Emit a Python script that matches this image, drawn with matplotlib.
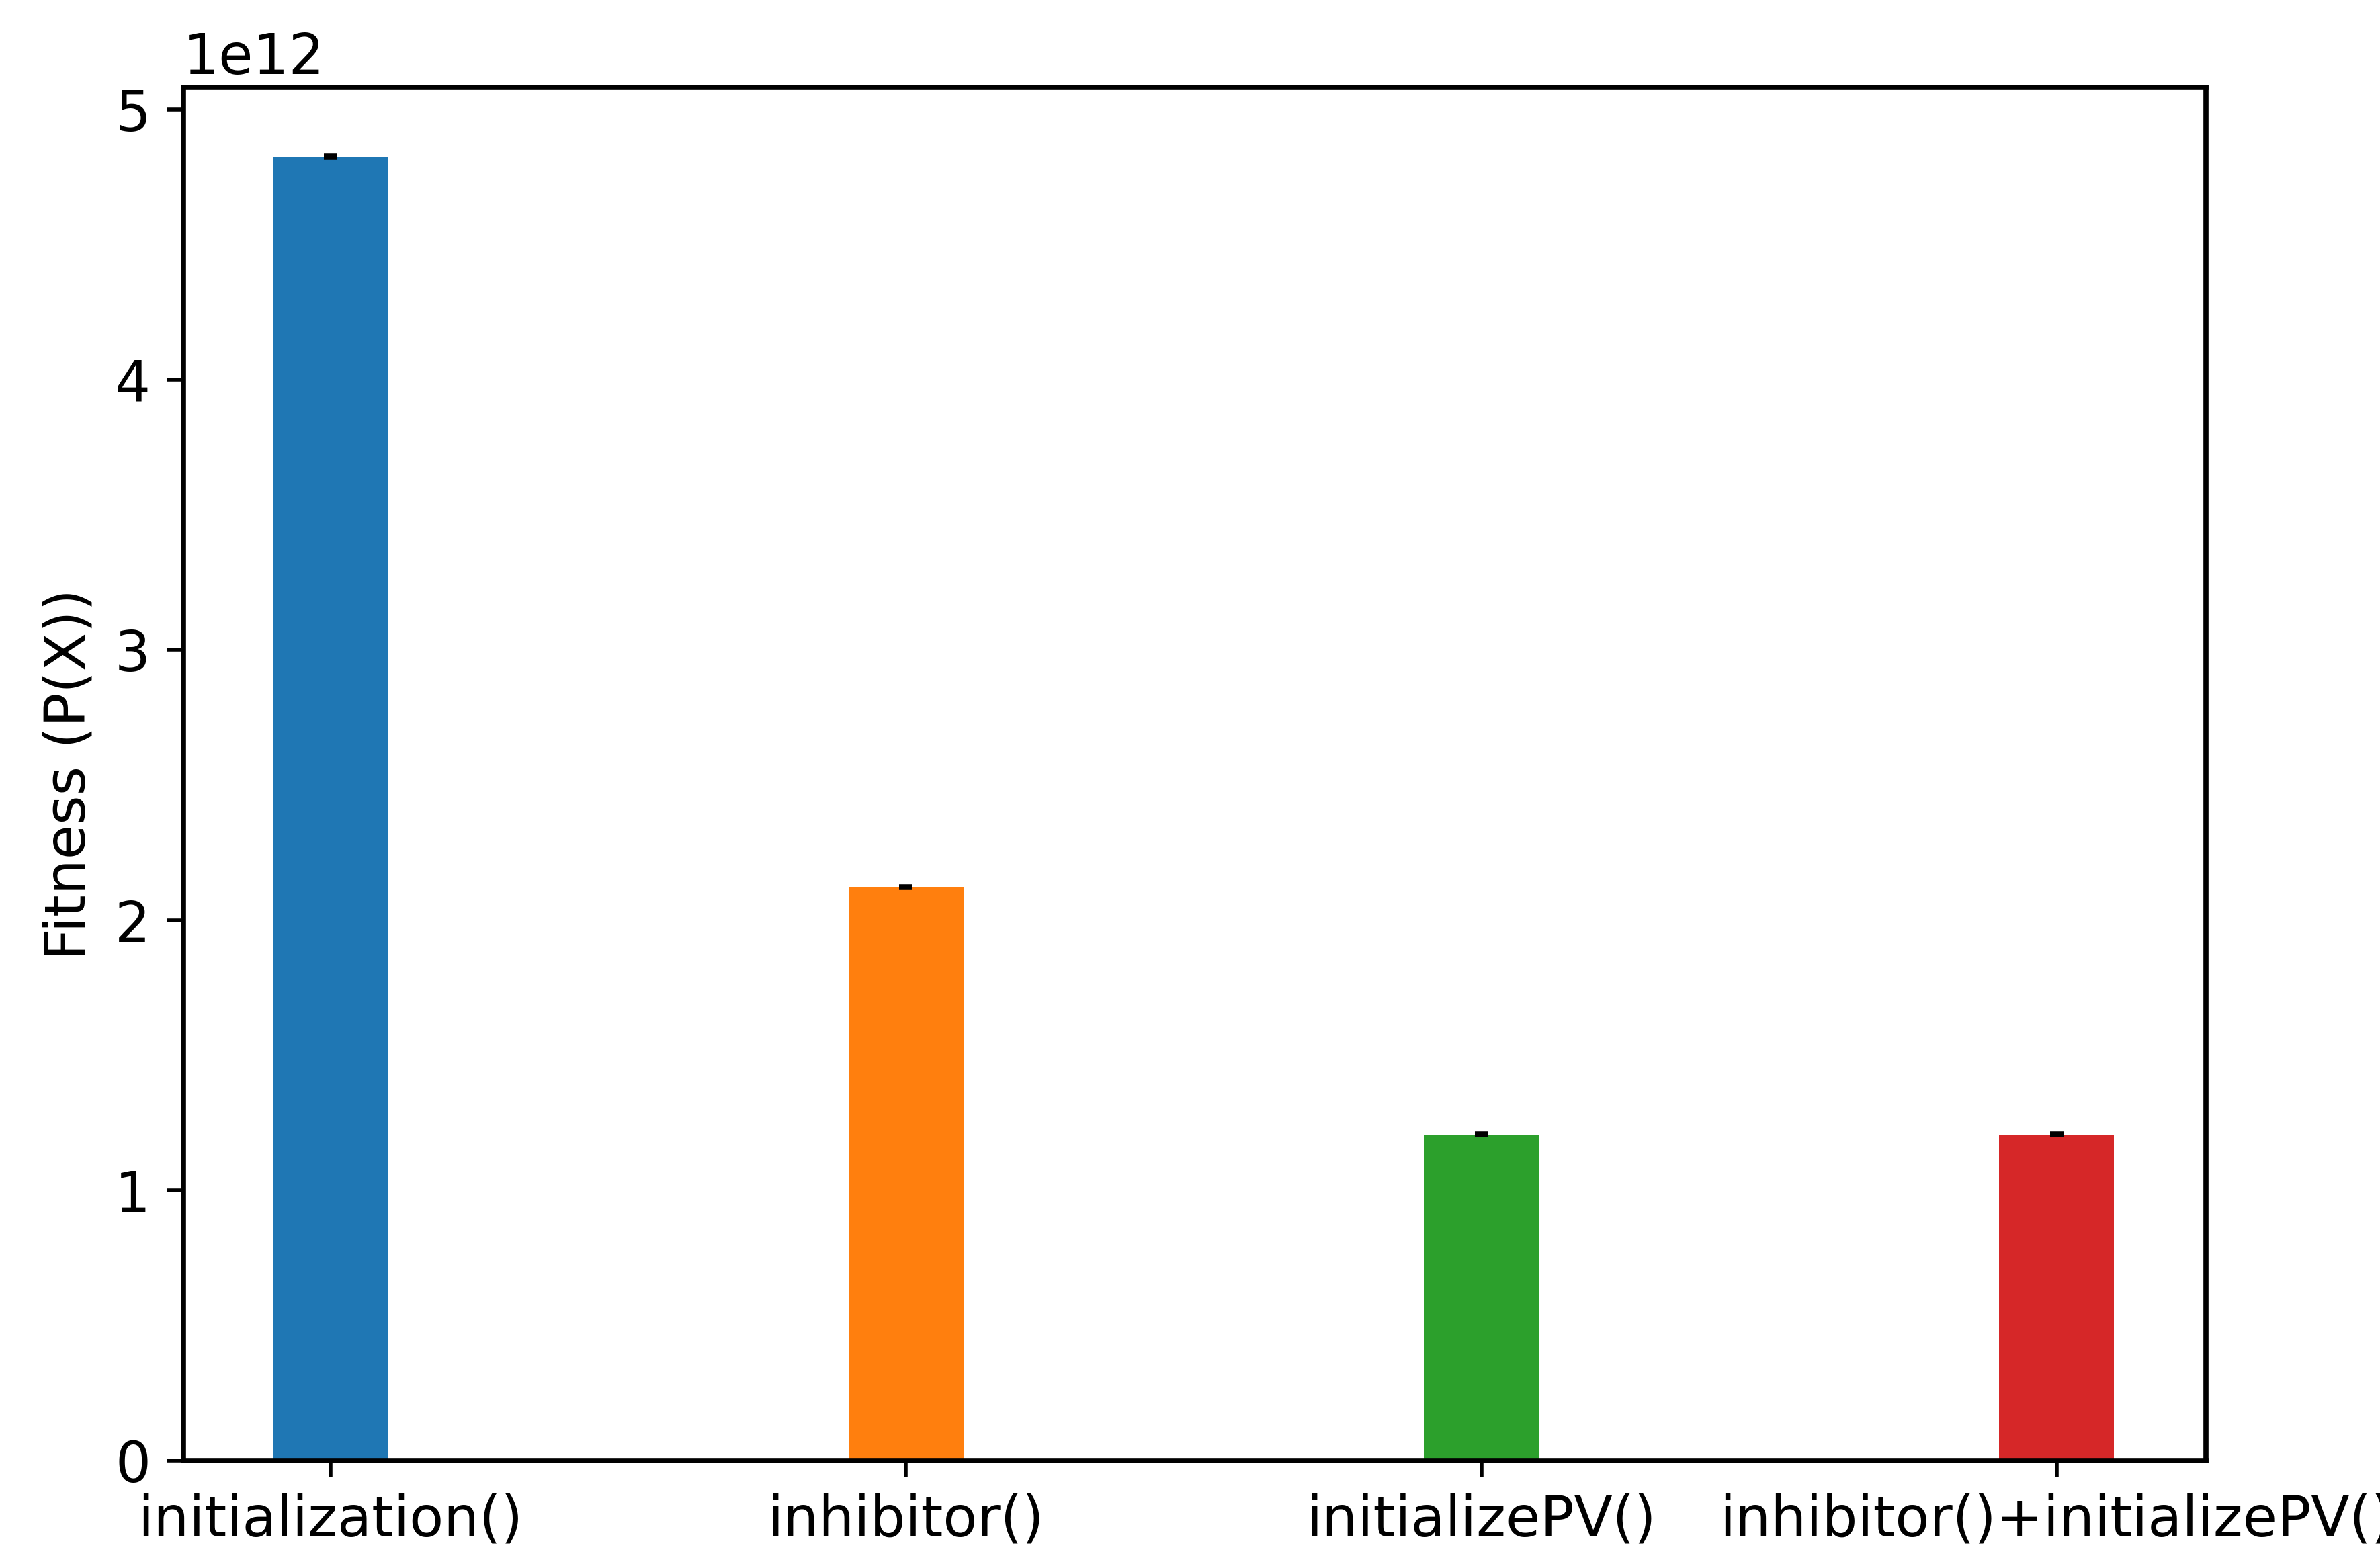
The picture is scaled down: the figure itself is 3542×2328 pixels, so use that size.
import matplotlib
matplotlib.use("Agg")
import matplotlib.pyplot as plt

labels = ["initialization()", "inhibitor()", "initializePV()", "inhibitor()+initializePV()"]
values = [4.825e12, 2.122e12, 1.207e12, 1.207e12]
errors = [0.004e12, 0.004e12, 0.004e12, 0.004e12]
colors = ["#1f77b4", "#ff7f0e", "#2ca02c", "#d62728"]

plt.rcParams["font.size"] = 12
plt.rcParams["axes.linewidth"] = 1.1

fig = plt.figure(figsize=(7.084, 4.656), dpi=500)
ax = fig.add_axes([0.077, 0.066, 0.85, 0.878])
ax.bar(range(len(labels)), values, width=0.2, color=colors,
       yerr=errors, capsize=1.5, error_kw=dict(elinewidth=0.8, capthick=0.8))
ax.set_xticks(range(len(labels)))
ax.set_xticklabels(labels)
ax.set_ylabel("Fitness (P(X))")
ax.set_ylim(0, 5.08e12)
ax.set_xlim(-0.256, 3.26)
fig.savefig("out.png", dpi=500)
